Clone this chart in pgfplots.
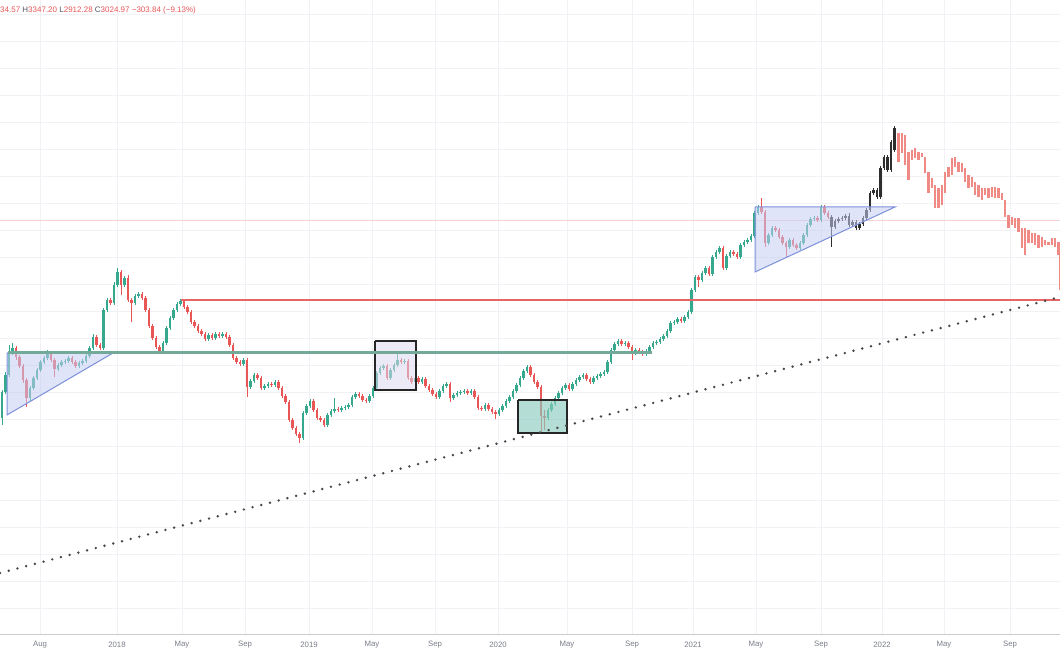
\documentclass[border=0pt]{standalone}
\usepackage{pgfplots}
\pgfplotsset{compat=1.18}
\usepackage{pgfplotstable}
\usepackage{fontspec}
\setmainfont{Liberation Sans}

\definecolor{cup}{HTML}{35A88E}
\definecolor{cdn}{HTML}{E85656}
\definecolor{cpk}{HTML}{F08A84}
\definecolor{cbk}{HTML}{2E2E2E}
\definecolor{gridc}{HTML}{F0F2F6}
\definecolor{lab}{HTML}{7A7D88}
\definecolor{labd}{HTML}{555862}
\definecolor{hline}{HTML}{E66565}
\definecolor{gline}{HTML}{72A998}
\definecolor{triF}{HTML}{C4CEF2}
\definecolor{triE}{HTML}{7C90DA}
\definecolor{boxA}{HTML}{DCD8F0}
\definecolor{boxB}{HTML}{8ACBBE}
\definecolor{pkline}{HTML}{F7D3D3}

% weekly candles, values in screen pixels (y down)
\pgfplotstableread{
x o c h l
2 418 392 390 425
5.5 392 375 372 394
9 375 352 345 377
12.5 352 348 343 355
16 348 357 346 360
19.5 357 366 355 368
23 366 380 364 383
26.5 380 398 378 407
30 398 388 386 401
33.5 388 378 376 390
37 378 370 368 380
40.5 370 362 360 372
44 362 358 356 364
47.5 358 354 350 360
51 354 360 352 362
54.5 360 369 358 377
58 369 365 363 371
61.5 365 362 360 367
65 362 361 359 364
68.5 361 358 356 363
72 358 362 356 364
75.5 362 366 360 368
79 366 363 361 368
82.5 363 361 359 365
86 361 356 354 363
89.5 356 348 346 358
93 348 337 334 350
96.5 337 345 335 347
100 345 348 343 350
103.5 348 310 308 350
107 310 300 298 312
110.5 300 303 298 305
114 303 285 282 305
117.5 285 272 268 287
121 272 285 270 295
124.5 285 278 276 287
128 278 300 275 302
131.5 300 303 298 322
135 303 296 294 305
138.5 296 294 292 298
142 294 298 292 300
145.5 298 310 296 312
149 310 326 308 328
152.5 326 338 324 340
156 338 347 336 349
159.5 347 352 345 354
163 352 343 341 354
166.5 343 328 326 345
170 328 318 316 330
173.5 318 310 308 320
177 310 304 302 312
180.5 304 301 299 306
184 301 307 299 309
187.5 307 312 305 314
191 312 322 310 324
194.5 322 326 320 328
198 326 331 324 333
201.5 331 334 329 336
205 334 339 332 341
208.5 339 335 333 341
212 335 338 333 340
215.5 338 334 332 340
219 334 336 332 338
222.5 336 334 332 338
226 334 337 332 339
229.5 337 345 335 347
233 345 358 343 360
236.5 358 362 356 364
240 362 364 360 366
243.5 364 360 358 366
247 360 387 358 397
250.5 387 381 379 389
254 381 375 373 383
257.5 375 378 373 380
261 378 388 376 390
264.5 388 386 384 390
268 386 384 382 388
271.5 384 385 382 387
275 385 382 380 387
278.5 382 388 380 390
282 388 396 386 398
285.5 396 402 394 404
289 402 420 400 422
292.5 420 428 418 430
296 428 434 426 436
299.5 434 438 432 443
303 438 413 411 440
306.5 413 406 404 415
310 406 401 399 408
313.5 401 410 399 412
317 410 418 408 420
320.5 418 420 416 422
324 420 425 418 427
327.5 425 415 413 427
331 415 411 409 417
334.5 411 409 398 413
338 409 410 407 412
341.5 410 408 406 412
345 408 407 405 410
348.5 407 405 403 409
352 405 397 395 407
355.5 397 394 392 399
359 394 396 392 398
362.5 396 400 394 402
366 400 401 398 403
369.5 401 396 394 403
373 396 388 386 398
376.5 388 373 371 390
380 373 368 366 375
383.5 368 366 364 370
387 366 378 364 380
390.5 378 370 368 380
394 370 365 363 372
397.5 365 360 352 367
401 360 362 358 364
404.5 362 361 359 364
408 361 378 359 380
411.5 378 382 376 384
415 382 378 376 384
418.5 378 382 376 384
422 382 379 377 384
425.5 379 386 377 388
429 386 390 384 392
432.5 390 394 388 396
436 394 397 392 399
439.5 397 391 389 399
443 391 386 384 393
446.5 386 384 382 388
450 384 398 382 402
453.5 398 395 393 400
457 395 393 391 397
460.5 393 392 390 395
464 392 391 389 394
467.5 391 393 389 395
471 393 391 389 395
474.5 391 397 389 399
478 397 408 395 410
481.5 408 409 406 411
485 409 405 403 411
488.5 405 409 403 411
492 409 412 407 414
495.5 412 414 410 419
499 414 410 408 416
502.5 410 406 404 412
506 406 401 399 408
509.5 401 397 395 403
513 397 391 389 399
516.5 391 385 383 393
520 385 378 376 387
523.5 378 371 369 380
527 371 367 365 373
530.5 367 375 365 377
534 375 382 373 384
537.5 382 387 380 389
541 387 416 385 432
544.5 416 418 410 430
548 418 410 408 420
551.5 410 404 402 412
555 404 398 396 406
558.5 398 393 391 400
562 393 388 386 395
565.5 388 385 383 390
569 385 389 383 391
572.5 389 384 382 391
576 384 380 378 386
579.5 380 377 375 382
583 377 375 373 379
586.5 375 379 373 381
590 379 382 377 384
593.5 382 378 376 384
597 378 376 374 380
600.5 376 374 372 378
604 374 372 370 376
607.5 372 362 360 374
611 362 350 348 364
614.5 350 344 342 352
618 344 341 339 346
621.5 341 344 339 346
625 344 343 341 346
628.5 343 347 341 349
632 347 353 345 360
635.5 353 350 348 355
639 350 352 348 354
642.5 352 354 350 356
646 354 351 349 356
649.5 351 347 345 353
653 347 343 341 349
656.5 343 342 340 345
660 342 339 337 344
663.5 339 336 334 341
667 336 331 329 338
670.5 331 323 321 333
674 323 322 320 325
677.5 322 319 317 324
681 319 321 317 323
684.5 321 317 315 323
688 317 312 310 319
691.5 312 290 288 314
695 290 277 275 292
698.5 277 280 275 287
702 280 273 271 282
705.5 273 268 266 275
709 268 274 266 276
712.5 274 257 255 276
716 257 252 250 259
719.5 252 248 246 254
723 248 268 246 270
726.5 268 256 254 270
730 256 252 250 258
733.5 252 254 250 256
737 254 257 252 259
740.5 257 245 243 259
744 245 242 240 247
747.5 242 240 238 244
751 240 236 234 242
754.5 236 213 211 238
758 213 207 205 215
761.5 207 212 198 214
765 212 243 210 247
768.5 243 235 233 245
772 235 228 226 237
775.5 228 230 226 232
779 230 237 228 239
782.5 237 243 235 245
786 243 247 241 257
789.5 247 240 238 249
793 240 245 238 247
796.5 245 248 243 250
800 248 243 241 250
803.5 243 235 233 245
807 235 225 223 237
810.5 225 219 217 227
814 219 218 216 221
817.5 218 220 216 222
821 220 207 205 222
824.5 207 213 205 215
828 213 217 211 219
}\candles

\pgfplotstableread{
x o c h l
831.5 217 227 215 247
835 227 221 219 229
838.5 221 219 217 223
842 219 218 216 221
845.5 218 216 214 220
849 216 225 213 227
852.5 225 222 220 227
856 222 228 220 230
859.5 228 224 222 230
863 224 218 216 226
866.5 218 210 208 220
870 210 193 191 212
873.5 193 190 188 195
877 190 197 188 199
880.5 197 168 166 199
884 168 157 155 170
887.5 157 170 155 172
891 170 142 140 172
894.5 150 128 126 152
}\blackbars

\pgfplotstableread{
x t b
898.3 133 162
901.7 133 153
905.0 135 165
908.3 152 180
911.7 150 160
915.0 148 158
918.3 152 160
921.7 153 157
925.0 157 173
928.3 172 193
931.7 178 188
935.0 185 208
938.3 188 208
941.7 185 205
945.0 172 193
948.3 167 177
951.7 158 175
955.0 157 167
958.3 162 172
961.7 163 172
965.0 168 182
968.3 175 188
971.7 177 187
975.0 182 195
978.3 185 197
981.7 188 200
985.0 188 195
988.3 188 198
991.7 187 197
995.0 187 198
998.3 188 198
1001.7 193 200
1005.0 200 217
1008.3 215 228
1011.7 217 225
1015.0 218 228
1018.3 218 232
1021.7 228 248
1025.0 228 255
1028.3 230 243
1031.7 233 243
1035.0 233 245
1038.3 235 248
1041.7 237 247
1045.0 240 245
1048.3 242 245
1051.7 238 245
1055.0 238 247
1058.3 242 255
1060.0 252 290
}\pinkbars

\pgfplotsset{
  candle/.style 2 args={draw=none, mark=none, forget plot,
    error bars/.cd, y dir=both, y explicit, error mark=none,
    error bar style={draw=#1, line width=#2}},
}

\begin{document}
\begin{tikzpicture}
\useasboundingbox (0,-16pt) rectangle (1060pt,634pt);
\begin{axis}[
  scale only axis, width=1060pt, height=634pt,
  xmin=0, xmax=1060, ymin=-634, ymax=0,
  axis line style={draw=none}, tick style={draw=none},
  xtick={40,117,182,245,309,372,435,498,567,632,693,756,821,882,944,1010},
  xticklabels={Aug,2018,May,Sep,2019,May,Sep,2020,May,Sep,2021,May,Sep,2022,May,Sep},
  xticklabel style={font=\fontsize{7.8}{8}\selectfont, text=lab, anchor=center, yshift=-11pt},
  ytick={-14,-41,-68,-95,-122,-149,-176,-203,-230,-257,-284,-311,-338,-365,-392,-419,-446,-473,-500,-527,-554,-581,-608},
  yticklabels={},
  xmajorgrids, ymajorgrids,
  major grid style={gridc, line width=0.8pt},
]
% faint price line
\addplot[pkline, line width=1pt] coordinates {(0,-221) (1060,-221)};

% wicks
\addplot[candle={cup}{0.8pt}]
  table[x=x, y expr={-(\thisrow{h}+\thisrow{l})/2}, y error expr={(\thisrow{l}-\thisrow{h})/2},
  restrict expr to domain={\thisrow{o}-\thisrow{c}}{0.001:1000}] \candles;
\addplot[candle={cdn}{0.8pt}]
  table[x=x, y expr={-(\thisrow{h}+\thisrow{l})/2}, y error expr={(\thisrow{l}-\thisrow{h})/2},
  restrict expr to domain={\thisrow{c}-\thisrow{o}}{0:1000}] \candles;
% bodies
\addplot[candle={cup}{2.8pt}]
  table[x=x, y expr={-(\thisrow{o}+\thisrow{c})/2}, y error expr={max(abs(\thisrow{c}-\thisrow{o})/2,0.6)},
  restrict expr to domain={\thisrow{o}-\thisrow{c}}{0.001:1000}] \candles;
\addplot[candle={cdn}{2.8pt}]
  table[x=x, y expr={-(\thisrow{o}+\thisrow{c})/2}, y error expr={max(abs(\thisrow{c}-\thisrow{o})/2,0.6)},
  restrict expr to domain={\thisrow{c}-\thisrow{o}}{0:1000}] \candles;
% black bars
\addplot[candle={cbk}{0.8pt}]
  table[x=x, y expr={-(\thisrow{h}+\thisrow{l})/2}, y error expr={(\thisrow{l}-\thisrow{h})/2}] \blackbars;
\addplot[candle={cbk}{2.8pt}]
  table[x=x, y expr={-(\thisrow{o}+\thisrow{c})/2}, y error expr={abs(\thisrow{c}-\thisrow{o})/2}] \blackbars;
% pink projected bars
\addplot[candle={cpk}{2.4pt}]
  table[x=x, y expr={-(\thisrow{t}+\thisrow{b})/2}, y error expr={(\thisrow{b}-\thisrow{t})/2}] \pinkbars;

% triangles
\addplot[draw=triE, line width=1pt, fill=triF, fill opacity=0.55] coordinates {(7,-353) (7,-415) (113,-353) (7,-353)};
\addplot[draw=triE, line width=1pt, fill=triF, fill opacity=0.55] coordinates {(755,-207) (755,-272) (895,-207) (755,-207)};

% boxes
\addplot[draw=black!85, line width=2.4pt, fill=boxA, fill opacity=0.55] coordinates {(375,-341) (416,-341) (416,-390) (375,-390) (375,-341)};
\addplot[draw=black!85, line width=2.4pt, fill=boxB, fill opacity=0.65] coordinates {(518,-400) (567,-400) (567,-433) (518,-433) (518,-400)};

% levels
\addplot[gline, line width=2.2pt] coordinates {(8,-352.5) (652,-352.5)};
\addplot[hline, line width=2.4pt] coordinates {(181,-300) (1060,-300)};
\addplot[black!72, line width=2.7pt, line cap=round, dash pattern=on 0pt off 9pt] coordinates {(0,-573) (1060,-297)};

\node[anchor=west, inner sep=0pt, font=\fontsize{8}{9}\selectfont] at (axis cs:0,-10)
  {\color{cdn}34.57 \color{labd}H\color{cdn}3347.20 \color{labd}L\color{cdn}2912.28 \color{labd}C\color{cdn}3024.97 −303.84 (−9.13\%)};
\end{axis}
\draw[gray!40, line width=0.8pt] (0,0) -- (1060pt,0);
\end{tikzpicture}
\end{document}
